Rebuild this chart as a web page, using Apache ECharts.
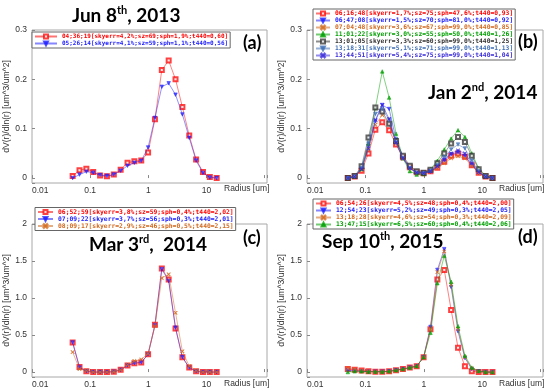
<!DOCTYPE html>
<html><head><meta charset="utf-8">
<script src="https://cdn.jsdelivr.net/npm/echarts@6/dist/echarts.min.js"></script>
<style>html,body{margin:0;padding:0;background:#fff}#c{width:550px;height:391px}</style>
</head><body><div id="c"></div>
<script>
// ---------- DATA ----------
const radius = [0.05, 0.065604, 0.086077, 0.112939, 0.148184, 0.194429, 0.255105, 0.334716, 0.439173, 0.576227, 0.756052, 0.991996, 1.301571, 1.707757, 2.240702, 2.939966, 3.857452, 5.061260, 6.640745, 8.713145, 11.432287, 15.0];
const xTickLabels = ['0.01', '0.1', '1', '10'];
const yTickLabelsSmall = ['0', '0.1', '0.2', '0.3'];
const yTickLabelsLarge = ['0', '0.5', '1.0', '1.5', '2'];

// panel (a) Jun 8th 2013
const aNames = ['04;36;19[skyerr=4,2%;sz=69;sph=1,9%;t440=0,60]', '05;26;14[skyerr=4,1%;sz=59;sph=1,1%;t440=0,56]'];
const a1 = [0.004, 0.016, 0.019, 0.0125, 0.005, 0.0035, 0.007, 0.017, 0.031, 0.034, 0.0355, 0.052, 0.119, 0.219, 0.238, 0.200, 0.144, 0.086, 0.0375, 0.0125, 0.002, 0];
const a2 = [0.0, 0.007, 0.013, 0.011, 0.006, 0.0045, 0.007, 0.015, 0.025, 0.031, 0.035, 0.062, 0.122, 0.185, 0.192, 0.169, 0.129, 0.0815, 0.0355, 0.0105, 0.001, 0];

// panel (b) Jan 2nd 2014
const bNames = ['06;16;48[skyerr=1,7%;sz=75;sph=47,6%;t440=0,93]', '06;47;08[skyerr=1,5%;sz=70;sph=81,0%;t440=0,92]', '07;04;48[skyerr=3,6%;sz=67;sph=99,0%;t440=0,85]', '11;01;22[skyerr=3,0%;sz=55;sph=50,0%;t440=1,26]', '13;01;05[skyerr=3,3%;sz=60;sph=99,0%;t440=1,25]', '13;18;31[skyerr=5,1%;sz=71;sph=99,0%;t440=1,13]', '13;44;51[skyerr=5,4%;sz=75;sph=99,0%;t440=1,04]'];
const b1 = [0, 0.003, 0.015, 0.050, 0.098, 0.113, 0.097, 0.068, 0.042, 0.022, 0.012, 0.010, 0.014, 0.021, 0.033, 0.045, 0.050, 0.043, 0.026, 0.011, 0.003, 0];
const b2 = [0, 0.004, 0.020, 0.065, 0.115, 0.148, 0.140, 0.078, 0.043, 0.020, 0.011, 0.010, 0.013, 0.022, 0.036, 0.048, 0.052, 0.045, 0.027, 0.011, 0.003, 0];
const b3 = [0, 0.003, 0.017, 0.058, 0.108, 0.128, 0.110, 0.070, 0.040, 0.020, 0.012, 0.011, 0.014, 0.020, 0.030, 0.040, 0.044, 0.040, 0.025, 0.010, 0.003, 0];
const b4 = [0, 0.003, 0.018, 0.070, 0.142, 0.216, 0.163, 0.090, 0.040, 0.014, 0.007, 0.008, 0.018, 0.035, 0.058, 0.080, 0.097, 0.083, 0.050, 0.020, 0.005, 0];
const b5 = [0, 0.004, 0.024, 0.082, 0.143, 0.135, 0.110, 0.075, 0.045, 0.025, 0.014, 0.011, 0.017, 0.030, 0.050, 0.070, 0.083, 0.073, 0.045, 0.018, 0.004, 0];
const b6 = [0, 0.003, 0.020, 0.070, 0.130, 0.140, 0.118, 0.072, 0.040, 0.020, 0.011, 0.010, 0.015, 0.026, 0.042, 0.058, 0.068, 0.060, 0.035, 0.014, 0.003, 0];
const b7 = [0, 0.003, 0.018, 0.060, 0.118, 0.148, 0.120, 0.072, 0.040, 0.020, 0.011, 0.010, 0.014, 0.024, 0.038, 0.050, 0.056, 0.050, 0.030, 0.012, 0.003, 0];

// panel (c) Mar 3rd 2014
const cNames = ['06;52;59[skyerr=3,8%;sz=59;sph=0,4%;t440=2,02]', '07;09;22[skyerr=3,7%;sz=56;sph=0,3%;t440=2,01]', '08;09;17[skyerr=2,9%;sz=46;sph=0,5%;t440=2,15]'];
const c1 = [0.40, 0.07, 0.01, 0, 0, 0, 0.005, 0.03, 0.09, 0.12, 0.13, 0.24, 0.64, 1.40, 1.25, 0.59, 0.20, 0.06, 0.01, 0, 0, 0];
const c2 = [0.40, 0.06, 0.01, 0, 0, 0, 0.005, 0.03, 0.09, 0.12, 0.13, 0.24, 0.63, 1.39, 1.23, 0.60, 0.20, 0.06, 0.01, 0, 0, 0];
const c3 = [0.27, 0.04, 0.02, 0, 0, 0, 0.005, 0.03, 0.10, 0.15, 0.17, 0.25, 0.62, 1.27, 1.32, 0.80, 0.28, 0.08, 0.02, 0, 0, 0];

// panel (d) Sep 10th 2015
const dNames = ['06;54;26[skyerr=4,5%;sz=48;sph=0,4%;t440=2,00]', '12;54;23[skyerr=5,2%;sz=49;sph=0,3%;t440=2,05]', '13;18;28[skyerr=4,6%;sz=54;sph=0,3%;t440=2,09]', '13;47;15[skyerr=6,5%;sz=60;sph=0,4%;t440=2,06]'];
const d1 = [0.04, 0.03, 0.02, 0.01, 0.005, 0.005, 0.01, 0.025, 0.04, 0.06, 0.08, 0.20, 0.58, 1.25, 1.38, 0.84, 0.33, 0.08, 0.01, 0, 0, 0];
const d2 = [0.02, 0.02, 0.01, 0.005, 0.005, 0.005, 0.01, 0.025, 0.04, 0.06, 0.08, 0.20, 0.61, 1.38, 1.66, 1.15, 0.55, 0.19, 0.04, 0.01, 0, 0];
const d3 = [0.05, 0.04, 0.02, 0.01, 0.005, 0.005, 0.01, 0.025, 0.04, 0.06, 0.08, 0.20, 0.58, 1.35, 1.63, 1.18, 0.58, 0.20, 0.05, 0.01, 0, 0];
const d4 = [0.0, 0.01, 0.01, 0.005, 0.005, 0.005, 0.01, 0.025, 0.04, 0.06, 0.08, 0.20, 0.53, 1.20, 1.57, 1.22, 0.62, 0.22, 0.06, 0.015, 0, 0];

// ---------- STYLE ----------
const RED = '#ff0000', BLUE = '#2020ff', ORANGE = '#d2691e', GREEN = '#00a000', GRAY = '#303030', STEEL = '#3f6fb5', VIOLET = '#3a2bd9';
const DOWN = 'path://M0,0L10,0L5,9Z';
const XMK = 'path://M0,1L1,0L5,4L9,0L10,1L6,5L10,9L9,10L5,6L1,10L0,9L4,5Z';
const UP = 'triangle';

const panels = [
  {names: aNames, data: [a1, a2], colors: [RED, BLUE], symbols: ['emptyRect', DOWN], ymax: 0.3, ticks: yTickLabelsSmall, split: 3,
   grid: {left: 32, top: 30, width: 235, height: 153}, legend: {left: 32, top: 32, itemWidth: 22, font: 6.0}},
  {names: bNames, data: [b1, b2, b3, b4, b5, b6, b7], colors: [RED, BLUE, ORANGE, GREEN, GRAY, STEEL, VIOLET], symbols: ['emptyRect', DOWN, XMK, UP, 'emptyRect', DOWN, XMK], ymax: 0.3, ticks: yTickLabelsSmall, split: 3,
   grid: {left: 307, top: 30, width: 236, height: 153}, legend: {left: 313, top: 9, itemWidth: 14, font: 6.3}},
  {names: cNames, data: [c1, c2, c3], colors: [RED, BLUE, ORANGE], symbols: ['emptyRect', DOWN, XMK], ymax: 2, ticks: yTickLabelsLarge, split: 4,
   grid: {left: 32, top: 224, width: 235, height: 153}, legend: {left: 35, top: 207.5, itemWidth: 15, font: 6.35}},
  {names: dNames, data: [d1, d2, d3, d4], colors: [RED, BLUE, ORANGE, GREEN], symbols: ['emptyRect', DOWN, XMK, UP], ymax: 2, ticks: yTickLabelsLarge, split: 4,
   grid: {left: 307, top: 224, width: 236, height: 153}, legend: {left: 313, top: 199, itemWidth: 15, font: 6.35}}
];

const labelFont = 'Liberation Sans';
function lookup(arr, v) {
  const s = arr.find(t => Math.abs(parseFloat(t) - v) < 1e-9);
  return s === undefined ? '' : s;
}

const grid = [], xAxis = [], yAxis = [], series = [], legend = [];
panels.forEach((p, k) => {
  grid.push(Object.assign({show: true, borderColor: '#a8a8a8', borderWidth: 1, backgroundColor: '#fff'}, p.grid));
  xAxis.push({
    type: 'log', gridIndex: k, min: 0.01, max: 110, logBase: 10,
    axisLine: {show: false},
    axisTick: {show: true, inside: true, length: 3, lineStyle: {color: '#888'}},
    splitLine: {show: false}, minorTick: {show: false},
    axisLabel: {fontFamily: labelFont, fontSize: 8.5, color: '#333', margin: 3, alignMinLabel: 'left', formatter: v => lookup(xTickLabels, v)}
  });
  yAxis.push({
    type: 'value', gridIndex: k, min: -p.ymax / 30, max: p.ymax, splitNumber: p.split,
    name: 'dV(r)/dln(r) [um^3/um^2]', nameLocation: 'middle', nameGap: 18,
    nameTextStyle: {fontFamily: labelFont, fontSize: 8.6, color: '#333'},
    axisLine: {show: false},
    axisTick: {show: true, inside: true, length: 3, lineStyle: {color: '#888'}},
    splitLine: {show: false},
    axisLabel: {fontFamily: labelFont, fontSize: 8.5, color: '#333', margin: 5, formatter: v => v < -1e-9 ? '' : lookup(p.ticks, v)}
  });
  p.data.forEach((vals, i) => {
    series.push({
      type: 'line', name: p.names[i], xAxisIndex: k, yAxisIndex: k,
      data: radius.map((r, j) => [r, vals[j]]),
      symbol: p.symbols[i], symbolSize: p.symbols[i] === 'emptyRect' ? 4 : 3.5,
      showSymbol: true, animation: false, silent: true,
      lineStyle: {color: p.colors[i], width: 0.9, opacity: 0.55},
      itemStyle: {color: p.colors[i], borderColor: p.colors[i], borderWidth: 0.7, opacity: 0.75},
      z: 2 + i
    });
  });
  legend.push({
    orient: 'vertical', left: p.legend.left, top: p.legend.top, padding: [1, 2, 1, 2], itemGap: 0,
    itemWidth: p.legend.itemWidth, itemHeight: 5, borderColor: '#666', borderWidth: 1, backgroundColor: '#fff',
    selectedMode: false, z: 10,
    data: p.names.map((n, i) => ({name: n, textStyle: {color: p.colors[i]}})),
    textStyle: {fontFamily: 'DejaVu Sans Mono', fontWeight: 'bold', fontSize: p.legend.font, lineHeight: 7, padding: 0}
  });
});

function titleText(left, top, main1, sup, main2) {
  return {left, top, padding: 0, text: '{m|' + main1 + '}{s|' + sup + '}{m|' + main2 + '}',
    textStyle: {rich: {
      m: {fontFamily: 'Lato', fontWeight: 'bold', fontSize: 19, color: '#000', lineHeight: 22},
      s: {fontFamily: 'Lato', fontWeight: 'bold', fontSize: 11, color: '#000', verticalAlign: 'top', lineHeight: 11}
    }}};
}
function plain(left, top, text, size, bold, family) {
  return {left, top, padding: 0, text, textStyle: {fontFamily: family, fontWeight: bold ? 'bold' : 'normal', fontSize: size, color: bold ? '#000' : '#333'}};
}
const title = [
  titleText(72, 5, 'Jun 8', 'th', ', 2013'),
  titleText(428, 82, 'Jan 2', 'nd', ', 2014'),
  titleText(89, 234, 'Mar 3', 'rd', ',  2014'),
  titleText(322, 231, 'Sep 10', 'th', ', 2015'),
  plain(243, 34, '(a)', 18, true, 'Lato'),
  plain(518, 33, '(b)', 18, true, 'Lato'),
  plain(243, 229, '(c)', 18, true, 'Lato'),
  plain(518, 228, '(d)', 18, true, 'Lato'),
  plain(224, 184, 'Radius [um]', 8.5, false, labelFont),
  plain(499, 184, 'Radius [um]', 8.5, false, labelFont),
  plain(224, 379, 'Radius [um]', 8.5, false, labelFont),
  plain(499, 379, 'Radius [um]', 8.5, false, labelFont)
];

const chart = echarts.init(document.getElementById('c'), null, {renderer: 'canvas'});
chart.setOption({backgroundColor: '#fff', animation: false, grid, xAxis, yAxis, series, legend, title});
</script>
</body></html>
